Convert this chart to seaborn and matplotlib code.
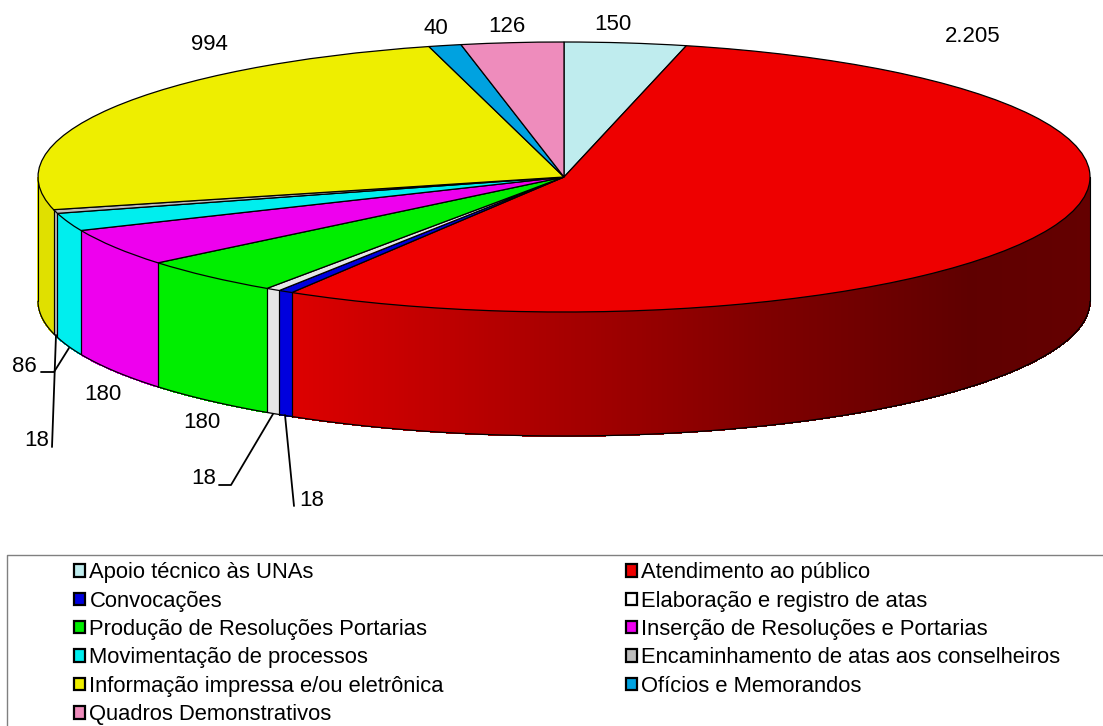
#!/usr/bin/env python3
"""
Pie chart with a fake 3D wall, legend in two columns
"""

import numpy as np
import matplotlib
matplotlib.use("Agg")
import matplotlib.pyplot as plt
from matplotlib.patches import Patch
import seaborn as sns

# Data, clockwise from the top of the pie
categories = ['Apoio técnico às UNAs', 'Atendimento ao público', 'Convocações',
              'Elaboração e registro de atas', 'Produção de Resoluções Portarias',
              'Inserção de Resoluções e Portarias', 'Movimentação de processos',
              'Encaminhamento de atas aos conselheiros',
              'Informação impressa e/ou eletrônica', 'Ofícios e Memorandos',
              'Quadros Demonstrativos']
values = [150, 2205, 18, 18, 180, 180, 86, 18, 994, 40, 126]
slice_colors = ['#bfecee', '#ee0000', '#0000dd', '#e6e6e6', '#00ee00', '#ee00ee',
                '#00eeee', '#bdbdbd', '#eeee00', '#00a2e0', '#ee8cbc']
legend_colors = ['#bfecee', '#ee0000', '#0000dd', '#ffffff', '#00ee00', '#ee00ee',
                 '#00eeee', '#bdbdbd', '#eeee00', '#00a2e0', '#ee8cbc']

sns.set_theme(style='white')
plt.rcParams['font.family'] = ['Liberation Sans', 'DejaVu Sans']
palette = sns.color_palette(slice_colors)

W, H = 1103, 726
CX, CY, RX, RY, DEPTH = 564, 177, 526, 135, 124


# pixel position of the reference -> data units of the unit circle
def px(x, y):
    return (x - CX) / RX, (CY - y) / RY


fig = plt.figure(figsize=(W / 100, H / 100), dpi=100)
ax = fig.add_axes([0, 0, 1, 1])

wedges, _ = ax.pie(values, colors=palette, startangle=90, counterclock=False,
                   radius=1, wedgeprops={'edgecolor': 'black', 'linewidth': 0.9, 'zorder': 5})
ax.set_aspect('auto')
ax.set_xlim(px(0, 0)[0], px(W, 0)[0])
ax.set_ylim(px(0, H)[1], px(0, 0)[1])
ax.axis('off')

d = DEPTH / RY

# Wall below the visible rim of every slice
for name, w, col in zip(categories, wedges, palette):
    t = np.radians(np.arange(w.theta1, w.theta2 + 0.25, 0.25))
    t = np.append(t[t < np.radians(w.theta2)], np.radians(w.theta2))
    t = t[np.sin(t) < 0]
    if len(t) < 2:
        continue
    for a, b in zip(t[:-1], t[1:]):
        xa, xb = np.cos(a), np.cos(b)
        ya, yb = np.sin(a), np.sin(b)
        xp = CX + RX * (xa + xb) / 2
        shade = 1.0
        if name.startswith('Atendimento'):
            shade = np.interp(xp, [290, 541, 760, 970, 1090], [0.93, 0.72, 0.54, 0.40, 0.42])
        elif name.startswith('Informação'):
            shade = 0.94
        c = tuple(v * shade for v in col)
        ax.fill([xa, xb, xb, xa], [ya, yb, yb - d, ya - d], color=c, lw=0.6,
                antialiased=False, zorder=2)
    # slice borders and rim
    ax.plot(np.cos(t), np.sin(t) - d, color='black', lw=0.9, zorder=3)
    for e in (t[0], t[-1]):
        ax.plot([np.cos(e)] * 2, [np.sin(e), np.sin(e) - d], color='black', lw=0.8, zorder=3)

# Value labels
label_pos = [(613, 24), (973, 37), (312, 500), (204, 479), (202, 422), (103, 395),
             (24, 366), (37, 440), (209, 45), (436, 28), (507, 26)]
for v, (lx, ly) in zip(values, label_pos):
    ax.text(*px(lx, ly), f'{v:,}'.replace(',', '.'), ha='center', va='center',
            fontsize=16, color='black', zorder=6)

# Leader lines for the small slices
leaders = [[(41, 372), (54, 372), (69, 348)],
           [(52, 447), (56, 335)],
           [(219, 485), (231, 485), (273, 414)],
           [(294, 506), (285, 415)]]
for pts in leaders:
    ax.plot(*zip(*[px(*p) for p in pts]), color='black', lw=1.3, zorder=6)

# Legend frame: only the top and left edges show
ax.plot(*zip(px(7, H), px(7, 555), px(W, 555)), color='#808080', lw=1.0, zorder=1)

# Legend filled row by row, matplotlib fills by column
order = [0, 2, 4, 6, 8, 10, 1, 3, 5, 7, 9]
handles = [Patch(facecolor=legend_colors[i], edgecolor='black', linewidth=1.6) for i in order]
labels = [categories[i] for i in order]
ax.legend(handles, labels, ncol=2, frameon=False, loc='upper left',
          bbox_to_anchor=(67.5 / W, 1 - 555.5 / H), borderaxespad=0, borderpad=0.3,
          fontsize=15.8, labelcolor='black', handlelength=0.5, handleheight=0.5,
          handletextpad=0.2, labelspacing=0.34, columnspacing=8.28)

fig.savefig('out.png', dpi=100)
plt.close(fig)
